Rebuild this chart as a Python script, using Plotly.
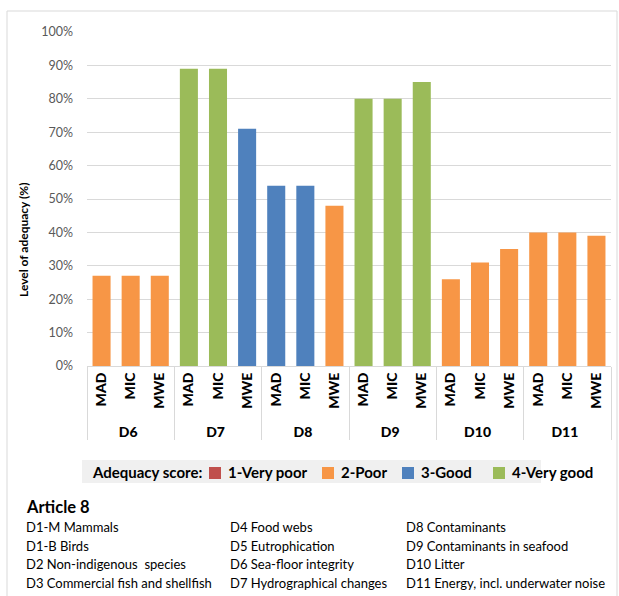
import plotly.graph_objects as go

# Descriptor groups, regions and adequacy levels (%)
groups = ["D6", "D7", "D8", "D9", "D10", "D11"]
regions = ["MAD", "MIC", "MWE"]
values = [
    27, 27, 27,   # D6
    89, 89, 71,   # D7
    54, 54, 48,   # D8
    80, 80, 85,   # D9
    26, 31, 35,   # D10
    40, 40, 39,   # D11
]
scores = [
    2, 2, 2,
    4, 4, 3,
    3, 3, 2,
    4, 4, 4,
    2, 2, 2,
    2, 2, 2,
]
score_names = ["1-Very poor", "2-Poor", "3-Good", "4-Very good"]
score_colors = ["#C0504D", "#F79646", "#4F81BD", "#9BBB59"]

legend_title = "Adequacy score:"
article_title = "Article 8"
descriptor_columns = [
    ["D1-M Mammals", "D1-B Birds", "D2 Non-indigenous  species",
     "D3 Commercial fish and shellfish"],
    ["D4 Food webs", "D5 Eutrophication", "D6 Sea-floor integrity",
     "D7 Hydrographical changes"],
    ["D8 Contaminants", "D9 Contaminants in seafood", "D10 Litter",
     "D11 Energy, incl. underwater noise"],
]

FONT = "Lato"
W, H = 619, 596
L, R, T, B = 87, 8, 32, 230
PW, PH = W - L - R, H - T - B


def px(x):
    return (x - L) / PW


def py(y):
    return (H - B - y) / PH


x_outer = [g for g in groups for _ in regions]
x_inner = [r for _ in groups for r in regions]

fig = go.Figure()
for level, (name, color) in enumerate(zip(score_names, score_colors), start=1):
    y = [v / 100 if s == level else None for v, s in zip(values, scores)]
    fig.add_trace(go.Bar(
        x=[x_outer, x_inner], y=y, name=name,
        marker=dict(color=color, line=dict(width=0)),
        showlegend=False, hoverinfo="skip",
    ))

fig.update_layout(
    width=W, height=H,
    margin=dict(l=L, r=R, t=T, b=B),
    paper_bgcolor="white", plot_bgcolor="white",
    barmode="overlay", bargap=0.38,
    font=dict(family=FONT, color="#000000"),
    xaxis=dict(
        type="multicategory",
        tickangle=-90,
        tickfont=dict(family=FONT, size=14, color="#000000", weight=900),
        showdividers=True, dividercolor="#d9d9d9", dividerwidth=1,
        showline=True, linecolor="#d9d9d9", linewidth=1,
        ticks="", showgrid=False,
    ),
    yaxis=dict(
        range=[0, 1], dtick=0.1, tickformat=".0%",
        tickfont=dict(family=FONT, size=12.5, color="#595959"),
        showgrid=True, gridcolor="#d9d9d9", gridwidth=1,
        zeroline=False, showline=False, ticks="",
        ticklabelstandoff=13,
    ),
)

shapes = []
annotations = []

# outer chart frame
shapes.append(dict(type="rect", xref="paper", yref="paper",
                   x0=px(7), x1=px(617), y0=py(640), y1=py(11),
                   line=dict(color="#d9d9d9", width=1), layer="below"))

# y axis title
annotations.append(dict(
    text="<b>Level of adequacy (%)</b>", xref="paper", yref="paper",
    x=px(23), y=py(240), textangle=-90, showarrow=False,
    font=dict(family=FONT, size=12, color="#000000"),
    xanchor="center", yanchor="middle"))

# legend strip
shapes.append(dict(type="rect", xref="paper", yref="paper",
                   x0=px(82), x1=px(541), y0=py(483), y1=py(460),
                   fillcolor="#f0f0f0", line=dict(width=0), layer="below"))
annotations.append(dict(
    text="<b>" + legend_title + "</b>", xref="paper", yref="paper",
    x=px(90), y=py(472), xanchor="left", yanchor="middle", showarrow=False,
    font=dict(family=FONT, size=15, color="#000000")))
swatch_x = [209, 322, 402, 493]
for sx, name, color in zip(swatch_x, score_names, score_colors):
    shapes.append(dict(type="rect", xref="paper", yref="paper",
                       x0=px(sx), x1=px(sx + 12), y0=py(479), y1=py(467),
                       fillcolor=color, line=dict(width=0)))
    annotations.append(dict(
        text="<b>" + name + "</b>", xref="paper", yref="paper",
        x=px(sx + 17), y=py(472), xanchor="left", yanchor="middle",
        showarrow=False, font=dict(family=FONT, size=15, color="#000000")))

# descriptor key
annotations.append(dict(
    text="<b>" + article_title + "</b>", xref="paper", yref="paper",
    x=px(24), y=py(507), xanchor="left", yanchor="middle", showarrow=False,
    font=dict(family=FONT, size=16.5, color="#000000")))
col_x = [24, 228, 404]
row_y = [527, 546, 564, 583]
for cx, col in zip(col_x, descriptor_columns):
    for ry, line in zip(row_y, col):
        annotations.append(dict(
            text=line, xref="paper", yref="paper",
            x=px(cx), y=py(ry), xanchor="left", yanchor="middle",
            showarrow=False, font=dict(family=FONT, size=13, color="#000000")))

fig.update_layout(shapes=shapes, annotations=annotations)
fig.write_html("out.html")
